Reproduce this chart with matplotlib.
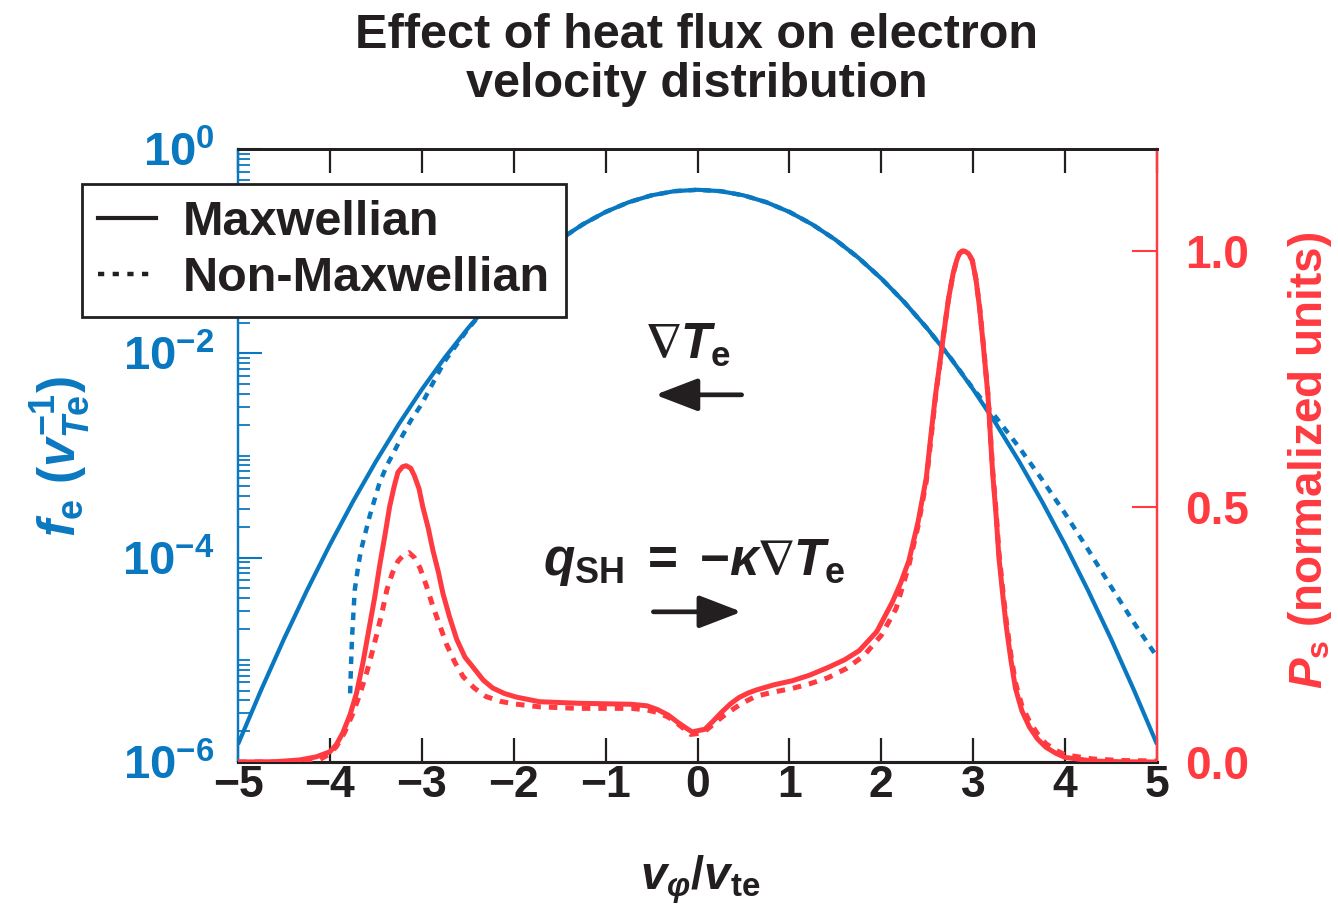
import numpy as np
import matplotlib
matplotlib.use("Agg")
import matplotlib.pyplot as plt
from matplotlib.ticker import FixedLocator, LogLocator, NullFormatter, FuncFormatter
from matplotlib.lines import Line2D

plt.rcParams['font.family'] = ['Liberation Sans', 'DejaVu Sans']
plt.rcParams['font.weight'] = 'bold'
plt.rcParams['mathtext.fontset'] = 'custom'
plt.rcParams['mathtext.rm'] = 'Liberation Sans:bold'
plt.rcParams['mathtext.it'] = 'Liberation Sans:italic:bold'
plt.rcParams['mathtext.bf'] = 'Liberation Sans:bold'
plt.rcParams['mathtext.sf'] = 'Liberation Sans:bold'
plt.rcParams['mathtext.fallback'] = 'stixsans'

BLUE = '#0a78c0'
RED = '#ff3a40'
BLACK = '#231f20'

# ---------------- data ----------------
# Maxwellian electron distribution f_e (left, log axis)
v_max = [-5.0, -4.75, -4.5, -4.25, -4.0, -3.75, -3.5, -3.25, -3.0, -2.75, -2.5,
         -2.25, -2.0, -1.75, -1.5, -1.25, -1.0, -0.75, -0.5, -0.25, 0.0,
         0.25, 0.5, 0.75, 1.0, 1.25, 1.5, 1.75, 2.0, 2.25, 2.5,
         2.75, 3.0, 3.25, 3.5, 3.75, 4.0, 4.25, 4.5, 4.75, 5.0]
f_max = [1.49e-6, 5.03e-6, 1.60e-5, 4.77e-5, 1.34e-4, 3.53e-4, 8.73e-4, 2.03e-3,
         4.43e-3, 9.09e-3, 1.75e-2, 3.17e-2, 5.40e-2, 8.63e-2, 0.1295, 0.1826,
         0.2420, 0.3011, 0.3521, 0.3867, 0.3989,
         0.3867, 0.3521, 0.3011, 0.2420, 0.1826, 0.1295, 8.63e-2, 5.40e-2,
         3.17e-2, 1.75e-2, 9.09e-3, 4.43e-3, 2.03e-3, 8.73e-4, 3.53e-4,
         1.34e-4, 4.77e-5, 1.60e-5, 5.03e-6, 1.49e-6]

# Non-Maxwellian electron distribution
v_nmax = [-3.78, -3.77, -3.76, -3.73, -3.69, -3.66, -3.57, -3.46, -3.38, -3.31,
          -3.24, -3.12, -3.0, -2.87, -2.75, -2.5, -2.25, -2.0, -1.75, -1.5,
          -1.25, -1.0, -0.75, -0.5, -0.25, 0.0, 0.25, 0.5, 0.75, 1.0, 1.25,
          1.5, 1.75, 2.0, 2.25, 2.5, 2.75, 3.0, 3.25, 3.5, 3.75, 4.0, 4.25,
          4.5, 4.75, 5.0]
f_nmax = [4.7e-6, 9.0e-6, 1.6e-5, 4.8e-5, 8.5e-5, 1.2e-4, 2.5e-4, 5.4e-4, 8.0e-4,
          1.05e-3, 1.4e-3, 2.2e-3, 3.2e-3, 5.3e-3, 8.4e-3, 1.72e-2, 3.17e-2,
          5.40e-2, 8.63e-2, 0.1295, 0.1826, 0.2420, 0.3011, 0.3521, 0.3867,
          0.3989, 0.3867, 0.3521, 0.3011, 0.2420, 0.1826, 0.1295, 8.63e-2,
          5.40e-2, 3.17e-2, 1.75e-2, 9.1e-3, 4.5e-3, 2.35e-3, 1.2e-3, 5.8e-4,
          2.7e-4, 1.2e-4, 5.2e-5, 2.3e-5, 1.07e-5]

# Power P_s (right, normalized units), Maxwellian
v_ps_max = [-5.0, -4.6, -4.33, -4.15, -4.0, -3.93, -3.86, -3.78, -3.71, -3.64,
            -3.57, -3.51, -3.46, -3.40, -3.35, -3.30, -3.26, -3.21, -3.17, -3.12,
            -3.08, -3.03, -2.99, -2.93, -2.88, -2.82, -2.77, -2.70, -2.62, -2.53,
            -2.44, -2.33, -2.23, -2.10, -1.97, -1.72, -1.30, -0.72, -0.55, -0.44,
            -0.32, -0.21, -0.12, -0.06, 0.08, 0.17, 0.26, 0.36, 0.45, 0.55, 0.64,
            0.83, 1.03, 1.22, 1.42, 1.60, 1.76, 1.95, 2.12, 2.21, 2.30, 2.40,
            2.49, 2.54, 2.59, 2.64, 2.68, 2.73, 2.78, 2.82, 2.85, 2.88, 2.91,
            2.95, 2.99, 3.03, 3.07, 3.11, 3.16, 3.21, 3.25, 3.28, 3.32, 3.36,
            3.41, 3.46, 3.53, 3.61, 3.70, 3.79, 3.90, 4.0, 4.3, 4.6, 5.0]
ps_max = [0.0, 0.0005, 0.004, 0.010, 0.020, 0.034, 0.057, 0.093, 0.135, 0.195,
          0.265, 0.325, 0.383, 0.445, 0.500, 0.540, 0.567, 0.578, 0.580, 0.575,
          0.560, 0.535, 0.500, 0.458, 0.415, 0.372, 0.330, 0.285, 0.240, 0.205,
          0.185, 0.160, 0.145, 0.134, 0.127, 0.118, 0.115, 0.113, 0.110, 0.103,
          0.092, 0.077, 0.066, 0.059, 0.064, 0.080, 0.097, 0.114, 0.126, 0.135,
          0.141, 0.151, 0.159, 0.170, 0.185, 0.200, 0.218, 0.255, 0.313, 0.350,
          0.394, 0.470, 0.557, 0.640, 0.719, 0.785, 0.840, 0.905, 0.955, 0.982,
          0.996, 1.0, 1.0, 0.995, 0.982, 0.945, 0.888, 0.815, 0.719, 0.570,
          0.480, 0.400, 0.330, 0.265, 0.200, 0.144, 0.100, 0.069, 0.045, 0.029,
          0.017, 0.009, 0.002, 0.0005, 0.0]

# Power P_s, Non-Maxwellian
v_ps_nmax = [-5.0, -4.3, -4.2, -4.11, -4.02, -3.93, -3.84, -3.75, -3.67, -3.60,
             -3.54, -3.49, -3.43, -3.38, -3.32, -3.26, -3.20, -3.14, -3.08, -3.02,
             -2.95, -2.88, -2.80, -2.73, -2.64, -2.55, -2.43, -2.30, -2.15, -2.01,
             -1.72, -1.30, -0.72, -0.55, -0.44, -0.32, -0.21, -0.14, -0.075, 0.06,
             0.16, 0.26, 0.36, 0.45, 0.55, 0.64, 0.83, 1.03, 1.22, 1.42, 1.62,
             1.81, 2.00, 2.16, 2.30, 2.40, 2.49, 2.54, 2.59, 2.64, 2.68, 2.73,
             2.78, 2.82, 2.85, 2.88, 2.91, 2.95, 2.99, 3.03, 3.07, 3.11, 3.16,
             3.21, 3.25, 3.28, 3.32, 3.36, 3.41, 3.46, 3.53, 3.61, 3.70, 3.79,
             3.90, 4.0, 4.3, 4.6, 5.0]
ps_nmax = [0.0, 0.0, 0.002, 0.005, 0.014, 0.030, 0.058, 0.095, 0.135, 0.175,
           0.215, 0.250, 0.295, 0.337, 0.370, 0.393, 0.405, 0.410, 0.400, 0.380,
           0.345, 0.305, 0.265, 0.230, 0.195, 0.167, 0.145, 0.128, 0.119, 0.114,
           0.108, 0.105, 0.105, 0.102, 0.097, 0.088, 0.074, 0.064, 0.054, 0.057,
           0.072, 0.087, 0.100, 0.111, 0.121, 0.129, 0.137, 0.144, 0.153, 0.165,
           0.183, 0.208, 0.248, 0.300, 0.385, 0.462, 0.550, 0.632, 0.715, 0.782,
           0.840, 0.905, 0.955, 0.982, 0.995, 1.0, 1.0, 0.995, 0.982, 0.945,
           0.890, 0.818, 0.720, 0.575, 0.488, 0.410, 0.340, 0.275, 0.210, 0.155,
           0.110, 0.080, 0.055, 0.036, 0.023, 0.014, 0.006, 0.003, 0.002]

x_ticks = [-5, -4, -3, -2, -1, 0, 1, 2, 3, 4, 5]
y_left_major = [1e-6, 1e-4, 1e-2, 1e0]
y_right_ticks = [0.0, 0.5, 1.0]
legend_labels = ['Maxwellian', 'Non-Maxwellian']

# ---------------- figure ----------------
fig = plt.figure(figsize=(13.38, 9.17), dpi=100)
ax = fig.add_axes([0.17788, 0.16903, 0.68685, 0.66848])
ax2 = ax.twinx()

dot = (0, (1.7, 1.6))
ax.plot(v_max, f_max, color=BLUE, lw=3.0, solid_capstyle='butt', zorder=3)
ax.plot(v_nmax, f_nmax, color=BLUE, lw=3.2, linestyle=dot, zorder=3)
ax2.plot(v_ps_max, ps_max, color=RED, lw=3.6, zorder=3)
ax2.plot(v_ps_nmax, ps_nmax, color=RED, lw=3.6, linestyle=dot, zorder=3)

ax.set_xlim(-5, 5)
ax.set_yscale('log')
ax.set_ylim(1e-6, 1e0)
ax2.set_ylim(0, 1.2)

# x ticks
ax.set_xticks(x_ticks)
ax.set_xticklabels([('\u2212%d' % abs(t)) if t < 0 else '%d' % t for t in x_ticks])
ax.tick_params(axis='x', direction='in', length=17, width=1.6, color=BLACK,
               top=True, labelsize=32, labelcolor=BLACK, pad=2)

# left log ticks
ax.yaxis.set_major_locator(FixedLocator(y_left_major))
ax.yaxis.set_major_formatter(FuncFormatter(lambda y, p: r'$10^{%d}$' % int(round(np.log10(y)))))
ax.yaxis.set_minor_locator(LogLocator(base=10, subs=np.arange(1, 10), numticks=100))
ax.yaxis.set_minor_formatter(NullFormatter())
ax.tick_params(axis='y', which='major', direction='in', length=17, width=1.5,
               color=BLUE, labelcolor=BLUE, labelsize=34, pad=17)
ax.tick_params(axis='y', which='minor', direction='in', length=8.5, width=1.3, color=BLUE)

# right ticks
ax2.set_yticks(y_right_ticks)
ax2.set_yticklabels(['%.1f' % t for t in y_right_ticks])
ax2.tick_params(axis='y', direction='in', length=18, width=1.5, color=RED,
                labelcolor=RED, labelsize=33, pad=20)

for a in (ax, ax2):
    a.spines['top'].set_color(BLACK)
    a.spines['bottom'].set_color(BLACK)
    a.spines['top'].set_linewidth(2.0)
    a.spines['bottom'].set_linewidth(2.2)
    a.spines['left'].set_color(BLUE)
    a.spines['left'].set_linewidth(1.6)
    a.spines['right'].set_color(RED)
    a.spines['right'].set_linewidth(1.6)

# labels
fig.text(0.5209, 0.9345, 'Effect of heat flux on electron\nvelocity distribution',
         ha='center', va='center', fontsize=35, fontweight='bold', color=BLACK,
         linespacing=1.13)
fig.text(700 / 1338, 1 - 880 / 917, r'$v_{\varphi}\mathrm{/}v_{\mathrm{te}}$', ha='center',
         va='center', fontsize=34, color=BLACK)
fig.text(60 / 1338, 1 - 457 / 917, r'$f_{\mathrm{e}}\ (v_{T\mathrm{e}}^{-1})$', ha='center',
         va='center', rotation=90, fontsize=37, color=BLACK if False else BLUE)
fig.text(1310 / 1338, 1 - 460 / 917, r'$P_{\mathrm{s}}$ (normalized units)', ha='center',
         va='center', rotation=90, fontsize=33, color=RED, fontweight='bold')

# annotations
ax.text(0.490, 0.680, r'$\nabla T_{\mathrm{e}}$', transform=ax.transAxes, ha='center',
        va='center', fontsize=36, color=BLACK)
ax.text(0.496, 0.326, r'$q_{\mathrm{SH}}\;=\;{-}\kappa\nabla T_{\mathrm{e}}$', transform=ax.transAxes,
        ha='center', va='center', fontsize=37, color=BLACK)
arrow_kw = dict(arrowstyle='-|>,head_length=2.6,head_width=1.0', color=BLACK, lw=3.4,
                shrinkA=0, shrinkB=0)
ax.annotate('', xy=(0.454, 0.599), xytext=(0.548, 0.599), xycoords='axes fraction',
            textcoords='axes fraction', arrowprops=arrow_kw)
ax.annotate('', xy=(0.548, 0.245), xytext=(0.452, 0.245), xycoords='axes fraction',
            textcoords='axes fraction', arrowprops=arrow_kw)

# legend
handles = [Line2D([], [], color=BLACK, lw=3.0),
           Line2D([], [], color=BLACK, lw=3.2, linestyle=(0, (1.4, 1.9)))]
leg = fig.legend(handles, legend_labels, loc='upper left',
                 bbox_to_anchor=(82 / 1338, 1 - 184 / 917), borderaxespad=0,
                 fontsize=35, frameon=True, fancybox=False, framealpha=1,
                 edgecolor=BLACK, handlelength=1.2, handletextpad=0.55,
                 borderpad=0.33, labelspacing=0.22)
leg.get_frame().set_linewidth(2.0)
for t in leg.get_texts():
    t.set_color(BLACK)
    t.set_fontweight('bold')

fig.savefig('out.png', dpi=100)
